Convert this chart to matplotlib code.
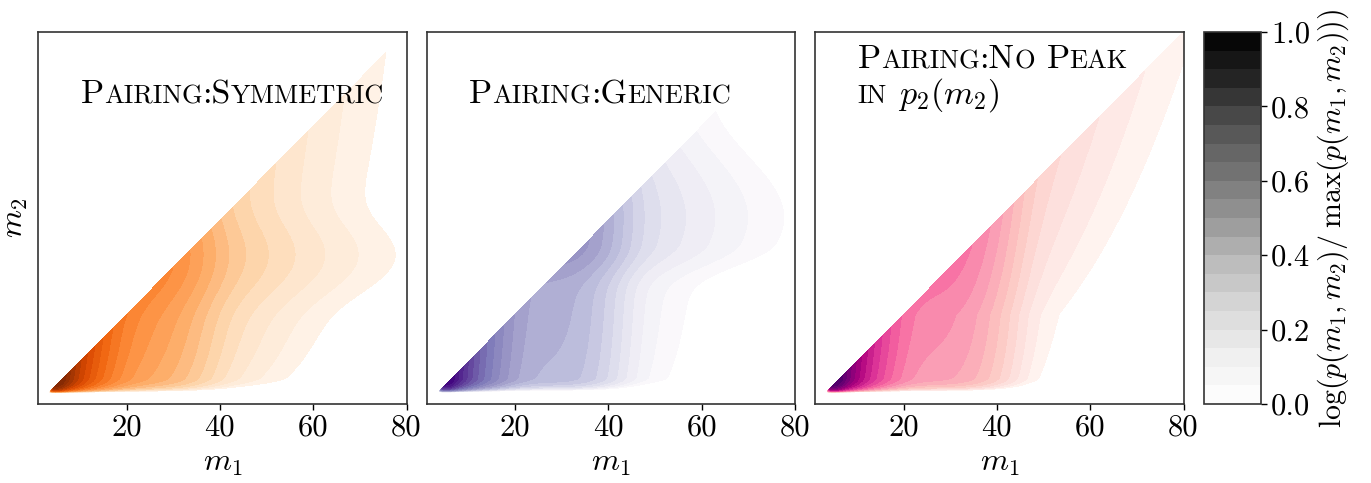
import numpy as np
import matplotlib
matplotlib.use("Agg")
import matplotlib.pyplot as plt
from matplotlib.colors import BoundaryNorm, ListedColormap
from matplotlib.cm import ScalarMappable

plt.rcParams["font.family"] = "serif"
plt.rcParams["font.serif"] = ["cmr10"]
plt.rcParams["mathtext.fontset"] = "cm"
plt.rcParams["axes.unicode_minus"] = False

# mass grid (solar masses) and colour levels
M_GRID_LO, M_GRID_HI = 1.0, 80.0
N_LEVELS = 20
X_TICKS = [20, 40, 60, 80]
CBAR_TICKS = [0.0, 0.2, 0.4, 0.6, 0.8, 1.0]

CMAPS = ["Oranges", "Purples", "RdPu"]

# model parameters: p(m1, m2) ~ p1(m1) p2(m2) q^beta
M_MIN = [3.2, 3.2, 3.2]
DELTA_M = [4.0, 4.0, 4.0]
# primary mass: power law + gaussian peak
ALPHA1 = [3.5, 3.5, 3.5]
LAM1 = [0.0095, 0.012, 0.022]
MU1 = [28.0, 32.0, 32.0]
SIG1 = [5.5, 5.5, 5.5]
# secondary mass: broken power law + (possibly skewed) gaussian peak
ALPHA2_LO = [3.5, 1.6, 2.8]
ALPHA2_HI = [3.5, 1.6, 1.3]
M_BREAK = [20.0, 20.0, 20.0]
LAM2 = [0.0095, 0.21, 0.0]
MU2 = [28.0, 35.0, 30.0]
SIG2_L = [5.5, 4.0, 4.5]
SIG2_R = [5.5, 10.5, 4.5]
# pairing index and depth (decades) of the colour scale
BETA = [4.6, 1.95, 3.5]
DEPTH = [7.6, 5.0, 6.15]


def smoothing(m, mmin, dm):
    out = np.zeros_like(m)
    out[m >= mmin + dm] = 1.0
    inside = (m > mmin) & (m < mmin + dm)
    mp = m[inside] - mmin
    with np.errstate(over="ignore"):
        out[inside] = 1.0 / (np.exp(dm / mp + dm / (mp - dm)) + 1.0)
    return out


def mass_pdf(m, mmin, dm, a_lo, a_hi, mbreak, lam, mu, sig_l, sig_r):
    fine = np.linspace(mmin, 100.0, 4000)

    def bpl(x):
        return np.where(x < mbreak, (x / mbreak) ** -a_lo, (x / mbreak) ** -a_hi)

    norm = np.trapezoid(bpl(fine), fine)
    pl = bpl(m) / norm
    sig = np.where(m < mu, sig_l, sig_r)
    g = np.exp(-0.5 * ((m - mu) / sig) ** 2) * 2 / (np.sqrt(2 * np.pi) * (sig_l + sig_r))
    return smoothing(m, mmin, dm) * ((1 - lam) * pl + lam * g)


def smallcaps(ax, x, y, parts):
    # parts: list of (string, fontsize); a None string is a word space
    r = ax.figure.canvas.get_renderer()
    for s, size in parts:
        if s is None:
            x += 0.33 * size * ax.figure.dpi / 72 / ax.bbox.width
            continue
        t = ax.text(x, y, s, fontsize=size, transform=ax.transAxes,
                    ha="left", va="baseline")
        x += t.get_window_extent(renderer=r).width / ax.bbox.width


BIG, SMALL = 24.5, 19
TITLE_PARTS = [
    [[("P", BIG), ("AIRING", SMALL), (":S", BIG), ("YMMETRIC", SMALL)]],
    [[("P", BIG), ("AIRING", SMALL), (":G", BIG), ("ENERIC", SMALL)]],
    [[("P", BIG), ("AIRING", SMALL), (":N", BIG), ("O", SMALL), (None, BIG),
      ("P", BIG), ("EAK", SMALL)],
     [("IN", SMALL), (None, BIG), (r"$p_2(m_2)$", BIG)]],
]

fig = plt.figure(figsize=(13.71, 4.83), dpi=100)
W, H = 1371.0, 483.0
ax_lefts = [38.0, 426.5, 815.0]
ax_w, ax_top, ax_bot = 368.5, 32.0, 404.0

m = np.linspace(M_GRID_LO, M_GRID_HI, 600)
M1, M2 = np.meshgrid(m, m)
levels = np.linspace(0, 1, N_LEVELS + 1)

for i in range(3):
    ax = fig.add_axes([ax_lefts[i] / W, 1 - ax_bot / H, ax_w / W, (ax_bot - ax_top) / H])
    p1 = mass_pdf(m, M_MIN[i], DELTA_M[i], ALPHA1[i], ALPHA1[i], M_BREAK[i],
                  LAM1[i], MU1[i], SIG1[i], SIG1[i])
    p2 = mass_pdf(m, M_MIN[i], DELTA_M[i], ALPHA2_LO[i], ALPHA2_HI[i], M_BREAK[i],
                  LAM2[i], MU2[i], SIG2_L[i], SIG2_R[i])
    P = p1[None, :] * p2[:, None] * (M2 / M1) ** BETA[i]
    P[M2 > M1] = 0.0
    with np.errstate(divide="ignore"):
        Z = 1 + np.log10(P / P.max()) / DEPTH[i]
    Z[~np.isfinite(Z)] = np.nan
    ax.contourf(M1, M2, Z, levels=levels, cmap=CMAPS[i])

    ax.set_xlim(M_GRID_LO, M_GRID_HI)
    ax.set_ylim(M_GRID_LO, M_GRID_HI)
    ax.set_xticks(X_TICKS)
    ax.set_yticks([])
    ax.tick_params(axis="x", labelsize=22, length=4, width=1, direction="out")
    for sp in ax.spines.values():
        sp.set_color("0.2")
        sp.set_linewidth(1.2)
    ax.set_xlabel(r"$m_1$", fontsize=23, labelpad=6)
    if i == 0:
        ax.set_ylabel(r"$m_2$", fontsize=23, labelpad=6)

    lines = TITLE_PARTS[i]
    y0 = 0.808 if len(lines) == 1 else 0.902
    for j, parts in enumerate(lines):
        smallcaps(ax, 0.116, y0 - j * 0.094, parts)

cax = fig.add_axes([1204.3 / W, 1 - ax_bot / H, 56.4 / W, (ax_bot - ax_top) / H])
greys = plt.get_cmap("Greys")
cmap_bar = ListedColormap(greys((np.arange(N_LEVELS) + 0.5) / N_LEVELS))
sm = ScalarMappable(norm=BoundaryNorm(levels, N_LEVELS), cmap=cmap_bar)
cb = fig.colorbar(sm, cax=cax, ticks=CBAR_TICKS)
cb.minorticks_off()
cb.ax.tick_params(labelsize=22, length=4, width=1)
cb.outline.set_edgecolor("0.2")
cb.outline.set_linewidth(1.2)
cb.set_label(r"$\log(p(m_1, m_2)/\;\max(p(m_1, m_2)))$", fontsize=21.5, labelpad=4)

fig.savefig("out.png", dpi=100)
